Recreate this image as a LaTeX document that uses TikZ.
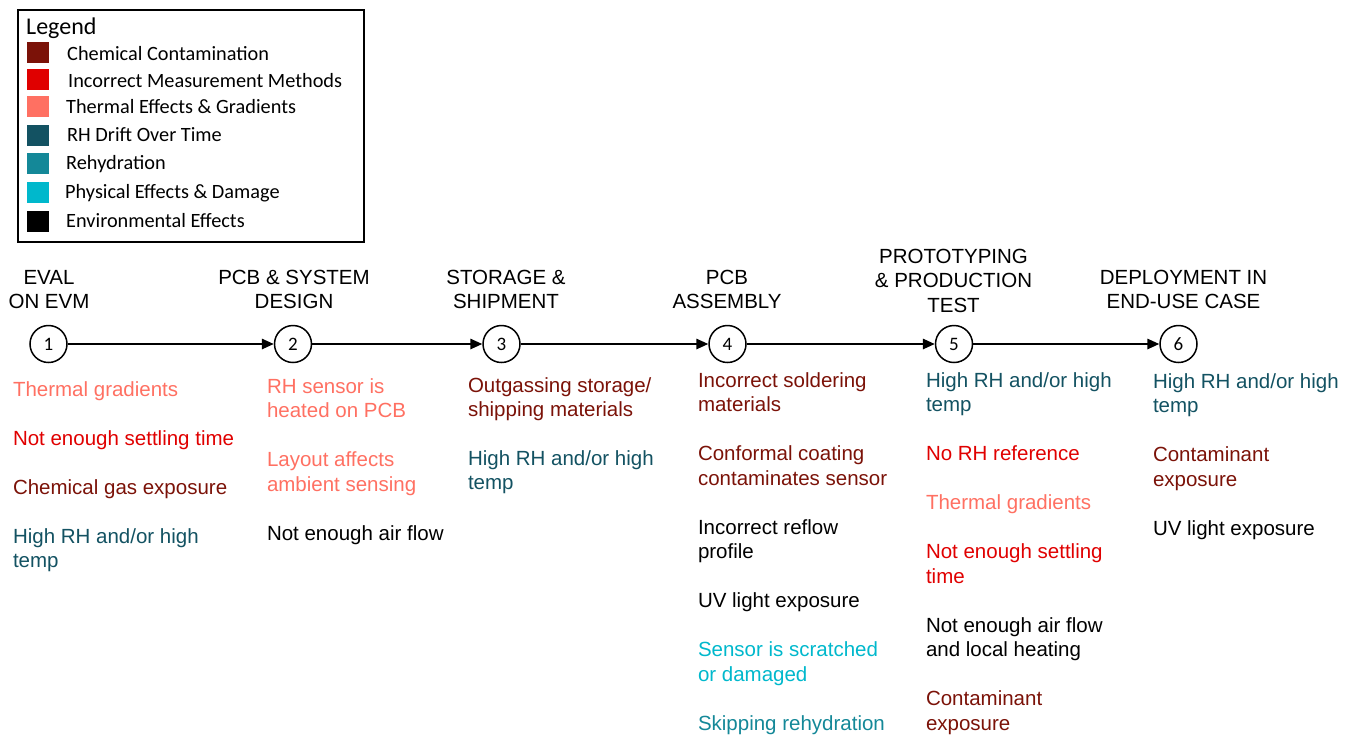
\documentclass[tikz,border=0pt]{standalone}
\usepackage{fontspec}
\setmainfont{Liberation Sans}
\newfontfamily\calib{Carlito}
\usetikzlibrary{arrows.meta}

\definecolor{cchem}{HTML}{7B1208}
\definecolor{cmeas}{HTML}{E00000}
\definecolor{ctherm}{HTML}{FF7062}
\definecolor{cdrift}{HTML}{135262}
\definecolor{crehyd}{HTML}{148898}
\definecolor{cphys}{HTML}{00B8CC}

\tikzset{
  item/.style={anchor=north west, inner sep=0pt, outer sep=0pt, align=left,
    font=\fontsize{20.5}{24.5}\selectfont, yshift=17.15pt},
  stagetitle/.style={anchor=north, inner sep=0pt, outer sep=0pt, align=center,
    font=\fontsize{20.5}{24.5}\selectfont, yshift=17.15pt},
  stage/.style={circle, draw, line width=1.5pt, minimum size=37pt, inner sep=0pt,
    font=\calib\fontsize{19}{22}\selectfont},
  flow/.style={line width=1.6pt, -{Triangle[length=12pt,width=10.5pt]}},
  swatch/.style={minimum width=22pt, minimum height=21pt, inner sep=0pt, draw=none},
  legtext/.style={anchor=base west, inner sep=0pt, font=\calib\fontsize{20.3}{24}\selectfont},
}

\begin{document}
\begin{tikzpicture}[x=1pt, y=-1pt]
\useasboundingbox (0,0) rectangle (1348,734);

% ---- legend ----
\node[draw, line width=1.5pt, minimum width=346pt, minimum height=232pt,
      inner sep=0pt, anchor=north west] (legend) at (17,9) {};
\node[anchor=base west, inner sep=0pt, font=\calib\fontsize{24}{28}\selectfont] (legtitle) at (26,34) {Legend};
\node[swatch, fill=cchem]  (sw1) at (38,52.2) {};
\node[swatch, fill=cmeas]  (sw2) at (38,79.5) {};
\node[swatch, fill=ctherm] (sw3) at (38,106.8) {};
\node[swatch, fill=cdrift] (sw4) at (38,135.5) {};
\node[swatch, fill=crehyd] (sw5) at (38,163.5) {};
\node[swatch, fill=cphys]  (sw6) at (38,192.3) {};
\node[swatch, fill=black]  (sw7) at (38,221.3) {};
\node[legtext] (lg1) at (67,60) {Chemical Contamination};
\node[legtext] (lg2) at (68,87) {Incorrect Measurement Methods};
\node[legtext] (lg3) at (66,113.5) {Thermal Effects \& Gradients};
\node[legtext] (lg4) at (67,141.5) {RH Drift Over Time};
\node[legtext] (lg5) at (66,169) {Rehydration};
\node[legtext] (lg6) at (65,198) {Physical Effects \& Damage};
\node[legtext] (lg7) at (66,227.5) {Environmental Effects};

% ---- process stages ----
\node[stage] (c1) at (48.5,344) {1};
\node[stage] (c2) at (293,344) {2};
\node[stage] (c3) at (501.5,344) {3};
\node[stage] (c4) at (727.5,344) {4};
\node[stage] (c5) at (954,344) {5};
\node[stage] (c6) at (1178.5,344) {6};

\draw[flow] (c1) -- (c2);
\draw[flow] (c2) -- (c3);
\draw[flow] (c3) -- (c4);
\draw[flow] (c4) -- (c5);
\draw[flow] (c5) -- (c6);

\node[stagetitle] (t1) at (49,284) {\strut EVAL\\ON EVM};
\node[stagetitle] (t2) at (294,284) {\strut PCB \& SYSTEM\\DESIGN};
\node[stagetitle] (t3) at (506,284) {\strut STORAGE \&\\SHIPMENT};
\node[stagetitle] (t4) at (727,284) {\strut PCB\\ASSEMBLY};
\node[stagetitle] (t5) at (953.5,263) {\strut PROTOTYPING\\\& PRODUCTION\\TEST};
\node[stagetitle] (t6) at (1183.5,284) {\strut DEPLOYMENT IN\\END-USE CASE};

% ---- stage 1: eval on EVM ----
\node[item, text=ctherm] (a1) at (13,396) {\strut Thermal gradients};
\node[item, text=cmeas]  (a2) at (13,445) {\strut Not enough settling time};
\node[item, text=cchem]  (a3) at (13,494) {\strut Chemical gas exposure};
\node[item, text=cdrift] (a4) at (13,543) {\strut High RH and/or high\\temp};

% ---- stage 2: PCB & system design ----
\node[item, text=ctherm] (b1) at (267,393) {\strut RH sensor is\\heated on PCB};
\node[item, text=ctherm] (b2) at (267,466.5) {\strut Layout affects\\ambient sensing};
\node[item, text=black]  (b3) at (267,540) {\strut Not enough air flow};

% ---- stage 3: storage & shipment ----
\node[item, text=cchem]  (d1) at (468,392) {\strut Outgassing storage/\\shipping materials};
\node[item, text=cdrift] (d2) at (468,465) {\strut High RH and/or high\\temp};

% ---- stage 4: PCB assembly ----
\node[item, text=cchem]  (e1) at (698,387) {\strut Incorrect soldering\\materials};
\node[item, text=cchem]  (e2) at (698,460.5) {\strut Conformal coating\\contaminates sensor};
\node[item, text=black]  (e3) at (698,534) {\strut Incorrect reflow\\profile};
\node[item, text=black]  (e4) at (698,607.5) {\strut UV light exposure};
\node[item, text=cphys]  (e5) at (698,656.5) {\strut Sensor is scratched\\or damaged};
\node[item, text=crehyd] (e6) at (698,730) {\strut Skipping rehydration};

% ---- stage 5: prototyping & production test ----
\node[item, text=cdrift] (f1) at (926,387) {\strut High RH and/or high\\temp};
\node[item, text=cmeas]  (f2) at (926,460.5) {\strut No RH reference};
\node[item, text=ctherm] (f3) at (926,509.5) {\strut Thermal gradients};
\node[item, text=cmeas]  (f4) at (926,558.5) {\strut Not enough settling\\time};
\node[item, text=black]  (f5) at (926,632) {\strut Not enough air flow\\and local heating};
\node[item, text=cchem]  (f6) at (926,705.5) {\strut Contaminant\\exposure};

% ---- stage 6: deployment ----
\node[item, text=cdrift] (g1) at (1153,388) {\strut High RH and/or high\\temp};
\node[item, text=cchem]  (g2) at (1153,461.5) {\strut Contaminant\\exposure};
\node[item, text=black]  (g3) at (1153,535) {\strut UV light exposure};
\end{tikzpicture}
\end{document}
